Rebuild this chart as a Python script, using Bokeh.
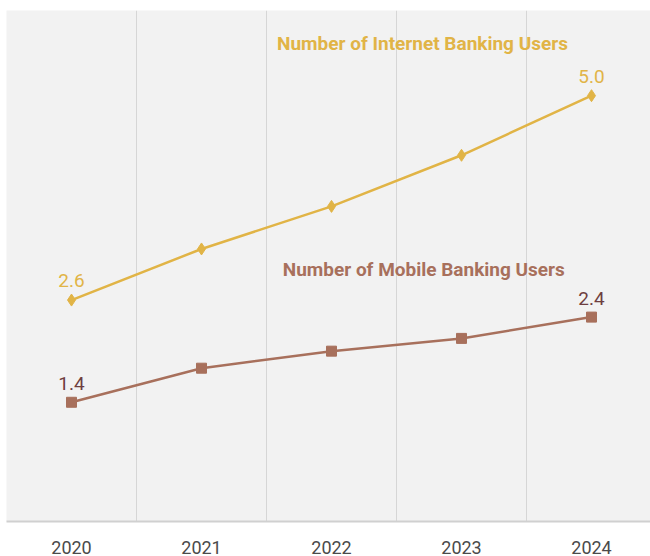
from bokeh.plotting import figure
from bokeh.models import Range1d, FixedTicker, ColumnDataSource, LabelSet, Label
from bokeh.core.properties import value
from bokeh.embed import file_html
from bokeh.resources import INLINE

years = ["2020", "2021", "2022", "2023", "2024"]
internet_users = [2.6, 3.2, 3.7, 4.3, 5.0]
mobile_users = [1.4, 1.8, 2.0, 2.15, 2.4]
internet_name = "Number of Internet Banking Users"
mobile_name = "Number of Mobile Banking Users"

GOLD = "#E1B446"
BROWN = "#A8705C"
DARK = "#6E3E40"

xs = list(range(len(years)))

p = figure(width=650, height=556, output_backend="svg", toolbar_location=None,
           x_range=Range1d(-0.5, -0.5 + 644 / 130), y_range=Range1d(0, 6),
           min_border_left=6, min_border_right=0, min_border_top=10, min_border_bottom=33)
p.background_fill_color = "#F2F2F2"
p.border_fill_color = "white"
p.outline_line_color = None
p.yaxis.visible = False
p.ygrid.visible = False
p.xgrid.ticker = FixedTicker(ticks=[-0.5, 0.5, 1.5, 2.5, 3.5])
p.xgrid.grid_line_color = "#D6D6D6"
p.xgrid.grid_line_width = 1
p.xaxis.ticker = FixedTicker(ticks=xs)
p.xaxis.major_label_overrides = {i: y for i, y in enumerate(years)}
p.xaxis.axis_line_color = "#D0D0D0"
p.xaxis.axis_line_width = 2
p.xaxis.major_tick_line_color = None
p.xaxis.minor_tick_line_color = None
p.xaxis.major_label_text_font = "Roboto"
p.xaxis.major_label_text_font_size = "18px"
p.xaxis.major_label_text_color = "#4A4A4A"
p.xaxis.major_label_standoff = 13

p.line(xs, internet_users, line_color=GOLD, line_width=2.5)
p.scatter(xs, internet_users, marker="diamond", size=12, fill_color=GOLD, line_color=GOLD)
p.line(xs, mobile_users, line_color=BROWN, line_width=2.5)
p.scatter(xs, mobile_users, marker="square", size=10, fill_color=BROWN, line_color=BROWN)

ends = [0, len(years) - 1]
src_i = ColumnDataSource(dict(x=[xs[i] for i in ends], y=[internet_users[i] for i in ends],
                              t=["%.1f" % internet_users[i] for i in ends]))
src_m = ColumnDataSource(dict(x=[xs[i] for i in ends], y=[mobile_users[i] for i in ends],
                              t=["%.1f" % mobile_users[i] for i in ends]))
p.add_layout(LabelSet(x="x", y="y", text="t", source=src_i, text_align="center",
                      text_baseline="bottom", y_offset=13, text_color=GOLD,
                      text_font=value("Roboto"), text_font_size="19px"))
p.add_layout(LabelSet(x="x", y="y", text="t", source=src_m, text_align="center",
                      text_baseline="bottom", y_offset=12, text_color=DARK,
                      text_font=value("Roboto"), text_font_size="19px"))

p.add_layout(Label(x=2.70, y=5.61, text=internet_name, text_align="center", text_baseline="middle",
                   text_color=GOLD, text_font="Roboto", text_font_style="bold", text_font_size="19px"))
p.add_layout(Label(x=2.71, y=2.96, text=mobile_name, text_align="center", text_baseline="middle",
                   text_color=BROWN, text_font="Roboto", text_font_style="bold", text_font_size="19px"))

open("out.html", "w").write(file_html(p, INLINE))
